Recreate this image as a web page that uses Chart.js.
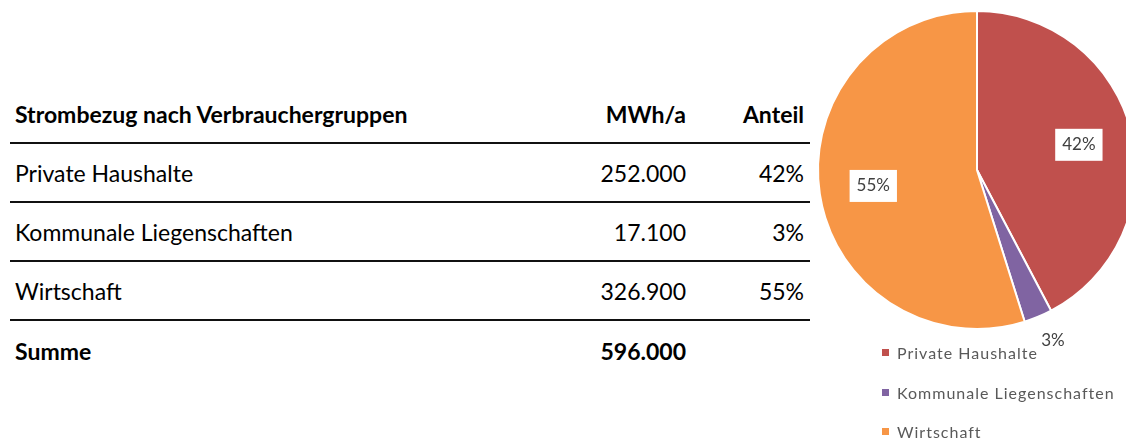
<!DOCTYPE html>
<html>
<head>
<meta charset="utf-8">
<script src="https://cdn.jsdelivr.net/npm/chart.js@4"></script>
<style>
  body { margin: 0; width: 1126px; height: 439px; overflow: hidden; background: #fff; position: relative; font-family: Lato, "Liberation Sans", sans-serif; }
  #table { position: absolute; left: 10px; top: 85px; width: 800px; color: #000; }
  .row { height: 59px; box-sizing: border-box; border-bottom: 2px solid #111; display: flex; align-items: center; font-size: 23px; }
  .row.last { border-bottom: none; }
  .row.bold { font-weight: bold; }
  .c1 { flex: 1; padding-left: 5px; }
  .c2 { width: 120px; text-align: right; margin-right: 18px; }
  .c3 { width: 100px; text-align: right; margin-right: 6px; }
  #pieWrap { position: absolute; left: 797px; top: 0; width: 362px; height: 360px; }
  #legend { position: absolute; left: 882px; top: 333px; color: #595959; font-size: 16px; letter-spacing: 1px; }
  .li { height: 39.5px; display: flex; align-items: center; }
  .sw { width: 7px; height: 7px; margin-right: 8px; }
</style>
</head>
<body>
<div id="table"></div>
<div id="pieWrap"><canvas id="myChart"></canvas></div>
<div id="legend"></div>
<script>
// data
let title = "Strombezug nach Verbrauchergruppen";
let headUnit = "MWh/a";
let headShare = "Anteil";
let groups = ["Private Haushalte", "Kommunale Liegenschaften", "Wirtschaft"];
let mwh = [252000, 17100, 326900];
let sumLabel = "Summe";
let colors = ["#C0504D", "#8064A2", "#F79646"];

let total = mwh.reduce((s, v) => s + v, 0);
let fmt = v => v.toLocaleString("de-DE");
let pct = v => Math.round(v / total * 100) + "%";

// table
let table = document.querySelector("#table");
let rows = [[title, headUnit, headShare, "bold"]];
groups.forEach((g, i) => rows.push([g, fmt(mwh[i]), pct(mwh[i]), ""]));
rows.push([sumLabel, fmt(total), "", "bold last"]);
rows.forEach(r => {
  let div = document.createElement("div");
  div.className = "row " + r[3];
  div.innerHTML = `<div class="c1">${r[0]}</div><div class="c2">${r[1]}</div><div class="c3">${r[2]}</div>`;
  table.appendChild(div);
});

// legend
let legend = document.querySelector("#legend");
groups.forEach((g, i) => {
  let div = document.createElement("div");
  div.className = "li";
  div.innerHTML = `<span class="sw" style="background:${colors[i]}"></span>${g}`;
  legend.appendChild(div);
});

// percent labels
let pieLabels = {
  id: "pieLabels",
  afterDatasetsDraw(chart) {
    let ctx = chart.ctx;
    let meta = chart.getDatasetMeta(0);
    ctx.save();
    ctx.font = "17px Lato, sans-serif";
    ctx.textAlign = "center";
    ctx.textBaseline = "middle";
    meta.data.forEach((arc, i) => {
      let v = mwh[i];
      let share = v / total;
      let mid = (arc.startAngle + arc.endAngle) / 2;
      let outside = share < 0.05;
      let r = arc.outerRadius * (outside ? 1.16 : 0.66);
      let x = arc.x + Math.cos(mid) * r;
      let y = arc.y + Math.sin(mid) * r;
      let txt = pct(v);
      if (!outside) {
        let w = ctx.measureText(txt).width + 14;
        ctx.fillStyle = "#fff";
        ctx.fillRect(x - w / 2, y - 16, w, 32);
      }
      ctx.fillStyle = "#404040";
      ctx.fillText(txt, x + (outside ? 5 : 0), y);
    });
    ctx.restore();
  }
};

let ctx = document.getElementById("myChart").getContext("2d");
let myChart = new Chart(ctx, {
  type: "pie",
  data: {
    labels: groups,
    datasets: [{
      data: mwh,
      backgroundColor: colors,
      borderColor: "#fff",
      borderWidth: 2
    }]
  },
  options: {
    responsive: true,
    maintainAspectRatio: false,
    animation: false,
    layout: { padding: { left: 20, right: 22, top: 9, bottom: 29 } },
    plugins: { legend: { display: false }, tooltip: { enabled: false } }
  },
  plugins: [pieLabels]
});
</script>
</body>
</html>
